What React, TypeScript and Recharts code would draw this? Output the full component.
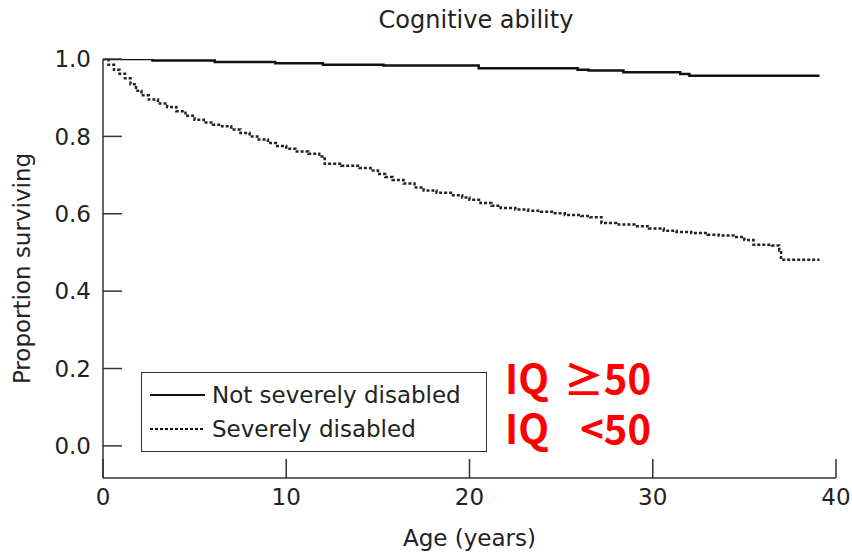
import { Legend, Line, LineChart, XAxis, YAxis } from "recharts"

// Kaplan-Meier survival by cognitive ability (step points: age in years, proportion surviving)
const ageNotSevere = [0, 2.7, 6.1, 9.4, 12.0, 15.3, 20.5, 25.9, 26.5, 28.4, 31.5, 32.0, 39.1]
const survNotSevere = [1.0, 0.996, 0.992, 0.989, 0.985, 0.983, 0.976, 0.972, 0.97, 0.966, 0.961, 0.957, 0.957]

const ageSevere = [
  0, 0.3, 0.6, 0.9, 1.2, 1.5, 1.8, 2.1, 2.5, 3.0, 3.5, 4.0, 4.5, 5.0, 5.5, 6.0, 6.5, 7.0, 7.5, 8.0,
  8.5, 9.0, 9.5, 10.0, 10.5, 11.2, 11.8, 12.1, 13.0, 14.0, 14.6, 15.0, 15.4, 15.8, 16.4, 17.0, 17.5,
  18.2, 19.1, 19.6, 20.0, 20.6, 21.2, 21.7, 22.5, 23.2, 23.9, 24.5, 25.2, 26.1, 26.6, 27.2, 28.0,
  29.0, 29.8, 30.6, 31.3, 32.1, 33.0, 33.6, 34.4, 35.0, 35.5, 36.5, 36.9, 37.0, 39.1,
]
const survSevere = [
  1.0, 0.985, 0.972, 0.962, 0.95, 0.935, 0.918, 0.906, 0.895, 0.885, 0.876, 0.865, 0.853, 0.843,
  0.836, 0.83, 0.826, 0.818, 0.809, 0.8, 0.792, 0.783, 0.775, 0.768, 0.761, 0.755, 0.748, 0.729,
  0.724, 0.718, 0.712, 0.703, 0.695, 0.687, 0.678, 0.668, 0.66, 0.654, 0.648, 0.642, 0.636, 0.628,
  0.621, 0.615, 0.611, 0.608, 0.605, 0.601, 0.597, 0.594, 0.591, 0.576, 0.572, 0.568, 0.562, 0.556,
  0.553, 0.55, 0.546, 0.544, 0.54, 0.532, 0.52, 0.518, 0.505, 0.481, 0.481,
]

const xTicks = [0, 10, 20, 30, 40]
const yTicks = [0, 0.2, 0.4, 0.6, 0.8, 1.0]

// IQ group labels, one per legend row
const iqPrefix = "IQ"
const iqGroups = ["≥50", "<50"]

const notSevereData = ageNotSevere.map((age, i) => ({ age, surv: survNotSevere[i] }))
const severeData = ageSevere.map((age, i) => ({ age, surv: survSevere[i] }))

const FONT = '"DejaVu Sans", sans-serif'
const TEXT = "#222"
const AXIS = "#333"
const FS = 23
const TICK_LEN = 19
const Y_GAP = 12
const X_GAP = 8

// ticks point inward, so the tick marks are drawn here instead of by the axis
function YTick({ x, y, payload }: any) {
  return (
    <g>
      <line x1={x + Y_GAP} x2={x + Y_GAP + TICK_LEN} y1={y} y2={y} stroke={AXIS} strokeWidth={1.5} />
      <text x={x} y={y} dy="0.36em" textAnchor="end" fill={TEXT} fontFamily={FONT} fontSize={FS}>
        {Number(payload.value).toFixed(1)}
      </text>
    </g>
  )
}

function XTick({ x, y, payload }: any) {
  return (
    <g>
      <line x1={x} x2={x} y1={y - X_GAP} y2={y - X_GAP - TICK_LEN} stroke={AXIS} strokeWidth={1.5} />
      <text x={x} y={y} dy={19} textAnchor="middle" fill={TEXT} fontFamily={FONT} fontSize={FS}>
        {payload.value}
      </text>
    </g>
  )
}

function LegendBox() {
  return (
    <div style={{ width: 346, height: 80, border: `1.5px solid ${AXIS}`, boxSizing: "border-box", background: "#fff" }}>
      <svg width={343} height={77} style={{ display: "block" }}>
        <line x1={8} x2={63} y1={22} y2={22} stroke="#111" strokeWidth={2.2} />
        <text x={70} y={22} dy="0.36em" fill={TEXT} fontFamily={FONT} fontSize={FS}>
          Not severely disabled
        </text>
        <line x1={8} x2={63} y1={56} y2={56} stroke="#111" strokeWidth={2} strokeDasharray="3 2" />
        <text x={70} y={56} dy="0.36em" fill={TEXT} fontFamily={FONT} fontSize={FS}>
          Severely disabled
        </text>
      </svg>
    </div>
  )
}

export default function App() {
  return (
    <div style={{ position: "fixed", left: 0, top: 0, width: 852, height: 553, background: "#fff" }}>
      <div
        style={{
          position: "absolute",
          left: 106,
          width: 740,
          top: 5,
          textAlign: "center",
          fontFamily: FONT,
          fontSize: 24,
          lineHeight: "30px",
          color: TEXT,
        }}
      >
        Cognitive ability
      </div>
      <LineChart width={852} height={553} margin={{ top: 59, right: 16, bottom: 0, left: 0 }}>
        <XAxis
          type="number"
          dataKey="age"
          domain={[0, 40]}
          ticks={xTicks}
          height={75}
          tickSize={0}
          tickMargin={X_GAP}
          tick={<XTick />}
          axisLine={{ stroke: AXIS, strokeWidth: 1.5 }}
          label={{
            value: "Age (years)",
            position: "insideBottom",
            offset: 7,
            fill: TEXT,
            fontSize: FS,
            fontFamily: FONT,
          }}
        />
        <YAxis
          type="number"
          dataKey="surv"
          domain={[-0.083, 1]}
          allowDataOverflow
          ticks={yTicks}
          width={103}
          tickSize={0}
          tickMargin={Y_GAP}
          tick={<YTick />}
          axisLine={{ stroke: AXIS, strokeWidth: 1.5 }}
          label={{
            value: "Proportion surviving",
            angle: -90,
            position: "insideLeft",
            offset: 22,
            fill: TEXT,
            fontSize: FS,
            fontFamily: FONT,
            style: { textAnchor: "middle" },
          }}
        />
        <Legend
          layout="vertical"
          align="center"
          verticalAlign="middle"
          content={<LegendBox />}
          wrapperStyle={{ left: 141, top: 372, width: 346, height: 80 }}
        />
        <Line
          data={notSevereData}
          dataKey="surv"
          name="Not severely disabled"
          type="stepAfter"
          stroke="#111"
          strokeWidth={2.5}
          dot={false}
          isAnimationActive={false}
        />
        <Line
          data={severeData}
          dataKey="surv"
          name="Severely disabled"
          type="stepAfter"
          stroke="#222"
          strokeWidth={2.5}
          strokeDasharray="3 2"
          dot={false}
          isAnimationActive={false}
        />
      </LineChart>
      {iqGroups.map((g, i) => (
        <div
          key={g}
          style={{
            position: "absolute",
            left: 505,
            width: 146,
            top: 355 + i * 50,
            height: 44,
            display: "flex",
            justifyContent: "space-between",
            alignItems: "center",
            color: "#ff0000",
            fontFamily: '"Noto Sans CJK KR", sans-serif',
            fontWeight: 700,
            fontSize: 40,
            lineHeight: "44px",
          }}
        >
          <span>{iqPrefix}</span>
          <span>{g}</span>
        </div>
      ))}
    </div>
  )
}
